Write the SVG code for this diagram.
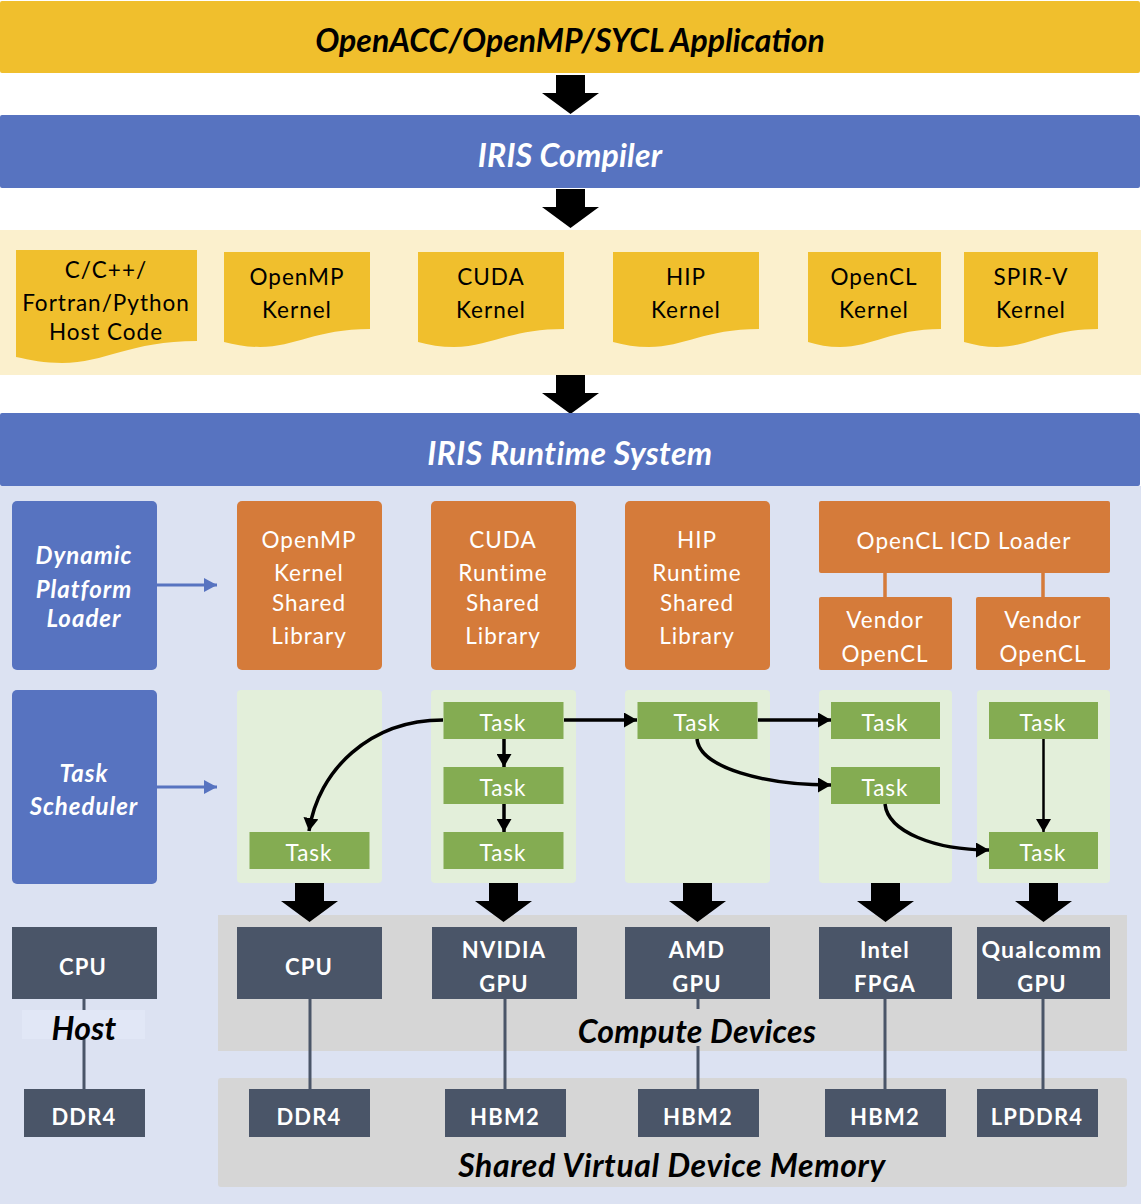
<svg xmlns="http://www.w3.org/2000/svg" width="1141" height="1204" viewBox="0 0 1141 1204">
<style>
text{font-family:"Lato","Open Sans","Liberation Sans",sans-serif;text-anchor:middle}
.t{font-size:22.500px;letter-spacing:1px;fill:#000}
.w{font-size:22.500px;letter-spacing:1px;fill:#fff}
.bw{font-size:22px;font-weight:700;letter-spacing:1.200px;fill:#fff}
.h{font-size:32px;font-weight:700;font-style:italic}
.l{font-size:24px;font-weight:700;font-style:italic;fill:#fff;letter-spacing:1px}
.c{font-size:32px;font-weight:700;font-style:italic;fill:#000;letter-spacing:.3px}
.y{fill:#F0BF2D}.b{fill:#5773C0}.o{fill:#D57B3A}.g{fill:#E3EFDA}.k{fill:#84AC52}.d{fill:#4A5568}
.cn{fill:none;stroke:#000;stroke-width:3.500}
.m{stroke:#4A5568;stroke-width:3;fill:none}
</style>
<defs>
<marker id="a" markerUnits="userSpaceOnUse" markerWidth="14" markerHeight="15" refX="13" refY="7.500" orient="auto"><path d="M0,0L13,7.500L0,15Z"/></marker>
<marker id="bl" markerUnits="userSpaceOnUse" markerWidth="14" markerHeight="14" refX="13" refY="7" orient="auto"><path d="M0,0L13,7L0,14Z" fill="#5773C0"/></marker>
<path id="ba" d="M-14.500,0H14.500V18H28.500L0,39L-28.500,18H-14.500Z"/>
</defs>
<rect width="1141" height="1204" fill="#fff"/>
<rect x="0" y="486" width="1141" height="718" fill="#DCE2F2"/>
<rect x="0" y="230" width="1141" height="145" fill="#FBF0CD"/>
<rect x="218" y="915" width="909" height="136" fill="#D6D6D6"/>
<rect x="218" y="1078" width="909" height="109" rx="3" fill="#D6D6D6"/>
<g id="connectors">
<use href="#ba" x="570.500" y="75"/><use href="#ba" x="570.500" y="189"/><use href="#ba" x="570.500" y="375"/>
<use href="#ba" x="309.500" y="883"/><use href="#ba" x="503.500" y="883"/><use href="#ba" x="697.500" y="883"/><use href="#ba" x="885.500" y="883"/><use href="#ba" x="1043.500" y="883"/>
<path d="M157,585H217" stroke="#5773C0" stroke-width="3" marker-end="url(#bl)"/>
<path d="M157,787H217" stroke="#5773C0" stroke-width="3" marker-end="url(#bl)"/>
<path class="m" d="M84,999V1089M310,999V1089M505,999V1089M698,999V1009M698,1046V1089M885,999V1089M1043,999V1089"/>
<path d="M885,573V597M1043,573V597" stroke="#D57B3A" stroke-width="3.500"/>
</g>
<g id="app"><rect y="1" width="1140" height="72" rx="2" class="y"/><text x="570" y="52" class="h" fill="#000">OpenACC/OpenMP/SYCL Application</text></g>
<g id="compiler"><rect y="115" width="1140" height="73" rx="2" class="b"/><text x="570" y="167" class="h" fill="#fff" style="letter-spacing:.2px">IRIS Compiler</text></g>
<g id="runtime"><rect y="413" width="1140" height="73" rx="2" class="b"/><text x="570" y="465" class="h" fill="#fff" style="letter-spacing:.4px">IRIS Runtime System</text></g>
<g id="doc-host"><path class="y" d="M16,250H197V341C130,341 105,363 62,363C45,363 30,360 16,357Z"/><text x="106" y="278" class="t">C/C++/</text><text x="106" y="311" class="t">Fortran/Python</text><text x="106" y="340" class="t">Host Code</text></g>
<g id="doc-openmp"><path class="y" d="M224,252H370V329C316,329 295,347 260,347C247,347 235,345 224,342Z"/><text x="297" y="285" class="t">OpenMP</text><text x="297" y="318" class="t">Kernel</text></g>
<g id="doc-cuda"><path class="y" d="M418,252H564V329C510,329 489,347 454,347C441,347 429,345 418,342Z"/><text x="491" y="285" class="t">CUDA</text><text x="491" y="318" class="t">Kernel</text></g>
<g id="doc-hip"><path class="y" d="M613,252H759V329C705,329 684,347 649,347C636,347 624,345 613,342Z"/><text x="686" y="285" class="t">HIP</text><text x="686" y="318" class="t">Kernel</text></g>
<g id="doc-opencl"><path class="y" d="M808,252H941V329C892,329 872,347 840,347C828,347 818,345 808,342Z"/><text x="874" y="285" class="t">OpenCL</text><text x="874" y="318" class="t">Kernel</text></g>
<g id="doc-spirv"><path class="y" d="M964,252H1098V329C1049,329 1029,347 997,347C985,347 975,345 964,342Z"/><text x="1031" y="285" class="t">SPIR-V</text><text x="1031" y="318" class="t">Kernel</text></g>
<g id="dpl"><rect x="12" y="501" width="145" height="169" rx="5" class="b"/><text x="84" y="564" class="l">Dynamic</text><text x="84" y="598" class="l">Platform</text><text x="84" y="627" class="l">Loader</text></g>
<g id="sched"><rect x="12" y="690" width="145" height="194" rx="5" class="b"/><text x="84" y="782" class="l">Task</text><text x="84" y="815" class="l">Scheduler</text></g>
<g id="lib-openmp"><rect x="237" y="501" width="145" height="169" rx="5" class="o"/><text x="309" y="548" class="w">OpenMP</text><text x="309" y="581" class="w">Kernel</text><text x="309" y="611" class="w">Shared</text><text x="309" y="644" class="w">Library</text></g>
<g id="lib-cuda"><rect x="431" y="501" width="145" height="169" rx="5" class="o"/><text x="503" y="548" class="w">CUDA</text><text x="503" y="581" class="w">Runtime</text><text x="503" y="611" class="w">Shared</text><text x="503" y="644" class="w">Library</text></g>
<g id="lib-hip"><rect x="625" y="501" width="145" height="169" rx="5" class="o"/><text x="697" y="548" class="w">HIP</text><text x="697" y="581" class="w">Runtime</text><text x="697" y="611" class="w">Shared</text><text x="697" y="644" class="w">Library</text></g>
<g id="icd"><rect x="819" y="501" width="291" height="72" rx="2" class="o"/><text x="964" y="549" class="w">OpenCL ICD Loader</text></g>
<g id="vendor1"><rect x="819" y="597" width="133" height="73" rx="2" class="o"/><text x="885" y="628" class="w">Vendor</text><text x="885" y="662" class="w">OpenCL</text></g>
<g id="vendor2"><rect x="976" y="597" width="134" height="73" rx="2" class="o"/><text x="1043" y="628" class="w">Vendor</text><text x="1043" y="662" class="w">OpenCL</text></g>
<g id="panels"><rect x="237" y="690" width="145" height="193" rx="4" class="g"/><rect x="431" y="690" width="145" height="193" rx="4" class="g"/><rect x="625" y="690" width="145" height="193" rx="4" class="g"/><rect x="819" y="690" width="133" height="193" rx="4" class="g"/><rect x="977" y="690" width="133" height="193" rx="4" class="g"/></g>
<g id="t1"><rect x="249.500" y="832" width="120" height="37" class="k"/><text x="309" y="861" class="w">Task</text></g>
<g id="t2"><rect x="443.500" y="702" width="120" height="37" class="k"/><text x="503" y="731" class="w">Task</text></g>
<g id="t3"><rect x="443.500" y="767" width="120" height="37" class="k"/><text x="503" y="796" class="w">Task</text></g>
<g id="t4"><rect x="443.500" y="832" width="120" height="37" class="k"/><text x="503" y="861" class="w">Task</text></g>
<g id="t5"><rect x="637.500" y="702" width="120" height="37" class="k"/><text x="697" y="731" class="w">Task</text></g>
<g id="t6"><rect x="831" y="702" width="109" height="37" class="k"/><text x="885" y="731" class="w">Task</text></g>
<g id="t7"><rect x="831" y="767" width="109" height="37" class="k"/><text x="885" y="796" class="w">Task</text></g>
<g id="t8"><rect x="989" y="702" width="109" height="37" class="k"/><text x="1043" y="731" class="w">Task</text></g>
<g id="t9"><rect x="989" y="832" width="109" height="37" class="k"/><text x="1043" y="861" class="w">Task</text></g>
<g id="task-connectors">
<path class="cn" d="M443,720C370,720 318,770 309,831" marker-end="url(#a)"/>
<path class="cn" d="M564,720H637" marker-end="url(#a)"/>
<path class="cn" d="M758,720H831" marker-end="url(#a)"/>
<path class="cn" d="M504,739V767" marker-end="url(#a)"/>
<path class="cn" d="M504,804V832" marker-end="url(#a)"/>
<path class="cn" d="M697,739C700,768 765,785 831,785" marker-end="url(#a)"/>
<path class="cn" d="M885,804C888,832 935,850 989,850" marker-end="url(#a)"/>
<path class="cn" style="stroke-width:2.500" d="M1043.500,739V832" marker-end="url(#a)"/>
</g>
<g id="cpu-host"><rect x="12" y="927" width="145" height="72" class="d"/><text x="83" y="975" class="bw">CPU</text></g>
<g id="cpu"><rect x="237" y="927" width="145" height="72" class="d"/><text x="309" y="975" class="bw">CPU</text></g>
<g id="nvidia"><rect x="432" y="927" width="145" height="72" class="d"/><text x="504" y="958" class="bw">NVIDIA</text><text x="504" y="992" class="bw">GPU</text></g>
<g id="amd"><rect x="625" y="927" width="145" height="72" class="d"/><text x="697" y="958" class="bw">AMD</text><text x="697" y="992" class="bw">GPU</text></g>
<g id="intel"><rect x="819" y="927" width="133" height="72" class="d"/><text x="885" y="958" class="bw">Intel</text><text x="885" y="992" class="bw">FPGA</text></g>
<g id="qualcomm"><rect x="977" y="927" width="133" height="72" class="d"/><text x="1042" y="958" class="bw" style="font-size:23px">Qualcomm</text><text x="1042" y="992" class="bw">GPU</text></g>
<g id="host-label"><rect x="22" y="1010" width="123" height="29" fill="#E1E7F6"/><text x="84" y="1040" class="c">Host</text></g>
<text x="697" y="1043" class="c">Compute Devices</text>
<g id="ddr-host"><rect x="24" y="1089" width="121" height="48" class="d"/><text x="84" y="1125" class="bw">DDR4</text></g>
<g id="ddr"><rect x="249" y="1089" width="121" height="48" class="d"/><text x="309" y="1125" class="bw">DDR4</text></g>
<g id="hbm1"><rect x="445" y="1089" width="121" height="48" class="d"/><text x="505" y="1125" class="bw">HBM2</text></g>
<g id="hbm2"><rect x="638" y="1089" width="121" height="48" class="d"/><text x="698" y="1125" class="bw">HBM2</text></g>
<g id="hbm3"><rect x="825" y="1089" width="121" height="48" class="d"/><text x="885" y="1125" class="bw">HBM2</text></g>
<g id="lpddr"><rect x="977" y="1089" width="121" height="48" class="d"/><text x="1037" y="1125" class="bw">LPDDR4</text></g>
<text x="672" y="1177" class="c" style="letter-spacing:.6px">Shared Virtual Device Memory</text>
</svg>
